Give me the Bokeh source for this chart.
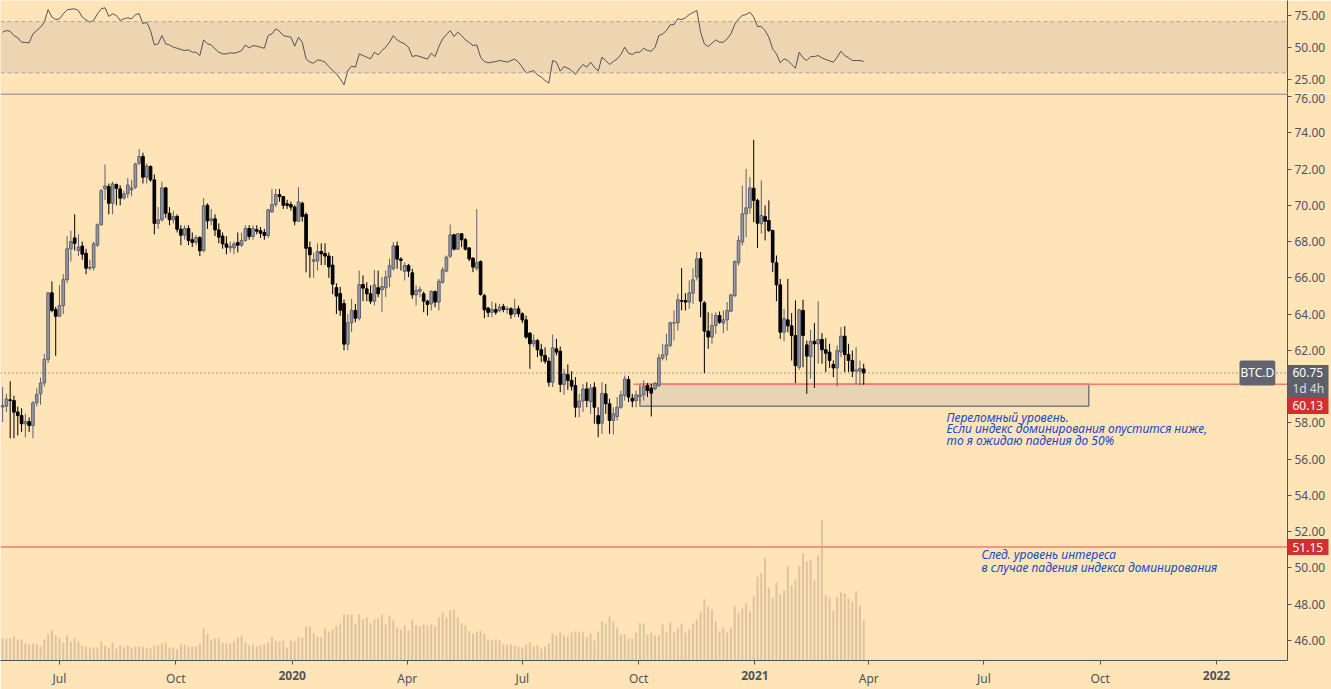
import pandas as pd
from bokeh.plotting import figure
from bokeh.layouts import column
from bokeh.models import (Range1d, FixedTicker, Span, Label, BoxAnnotation,
                          NumeralTickFormatter, GridBox)
from bokeh.embed import file_html
from bokeh.resources import INLINE

# ---------------- data (3-day candles of BTC.D) ----------------
first_bar = "2019-05-17"
axis_origin = "2019-07-01"

opens = [58.87, 58.92, 59.27, 59.23, 58.6, 58.4, 57.95, 58.07, 57.85, 59.1,
         59.6, 60.2, 61.5, 65.17, 64.25, 63.88, 64.47, 65.9, 67.6, 68.2,
         67.5, 67.75, 67.35, 66.53, 66.55, 67.8, 68.92, 70.9, 71.03, 70.11,
         71.14, 70.9, 70.4, 70.63, 70.85, 71.0, 72.32, 72.69, 71.55, 72.14,
         71.4, 69.0, 69.2, 70.96, 69.56, 69.2, 69.38, 68.68, 68.35, 68.72,
         68.1, 67.96, 68.22, 67.5, 70.0, 69.14, 69.25, 68.64, 68.3, 67.87,
         67.65, 67.65, 67.94, 67.8, 68.06, 68.72, 68.28, 68.66, 68.6, 68.5,
         68.33, 69.63, 70.04, 70.59, 70.48, 70.08, 70.04, 69.9, 69.12, 70.11,
         69.49, 67.67, 66.9, 66.92, 67.45, 67.34, 67.2, 66.7, 65.46, 65.13,
         64.58, 62.34, 63.52, 64.20, 63.77, 65.63, 65.39, 65.12, 64.71, 65.45,
         65.34, 65.45, 66.04, 66.50, 67.76, 67.03, 66.35, 66.68, 66.28, 65.06,
         65.25, 65.12, 64.71, 64.56, 65.24, 64.66, 65.76, 66.37, 67.19, 68.37,
         67.58, 68.43, 68.10, 67.65, 67.08, 66.53, 66.90, 65.02, 64.33, 64.10,
         64.25, 64.20, 64.42, 64.25, 64.29, 64.01, 64.29, 64.01, 63.68, 62.95,
         62.36, 62.54, 62.03, 61.72, 61.40, 60.24, 62.08, 61.95, 60.12, 60.66,
         60.34, 60.06, 58.86, 59.20, 59.87, 59.17, 59.96, 58.40, 57.98, 59.60,
         59.05, 58.13, 58.35, 58.86, 59.51, 60.39, 59.36, 59.23, 59.45, 59.54,
         60.06, 59.91, 59.88, 60.06, 61.57, 61.75, 62.27, 63.50, 63.52, 64.75,
         64.75, 64.66, 65.15, 66.04, 67.05, 64.62, 63.06, 62.73, 63.37, 63.92,
         63.50, 63.68, 64.16, 65.02, 66.83, 67.97, 69.53, 69.86, 70.94, 70.27,
         68.98, 69.38, 69.16, 68.61, 66.83, 65.61, 63.00, 63.68, 63.35, 62.82,
         61.07, 64.20, 62.30, 61.66, 62.50, 62.36, 62.60, 62.03, 61.90, 61.22,
         61.03, 61.90, 62.78, 61.77, 61.44, 60.85, 60.85, 60.97]
highs = [59.97, 59.6, 60.3, 59.5, 58.9, 58.8, 58.5, 58.3, 59.2, 59.9,
         60.5, 61.8, 65.2, 65.8, 64.4, 65.6, 66.2, 68.3, 68.6, 69.5,
         68.4, 68.0, 67.6, 67.0, 68.0, 69.0, 70.9, 72.25, 71.2, 71.3,
         71.2, 71.1, 70.8, 71.5, 71.4, 72.35, 73.1, 72.9, 72.3, 72.2,
         71.7, 69.9, 71.3, 71.0, 69.9, 69.7, 69.5, 68.9, 68.9, 68.9,
         68.5, 68.35, 68.3, 70.4, 70.1, 69.8, 69.5, 69.0, 68.5, 68.3,
         68.0, 68.0, 68.5, 68.5, 68.9, 68.9, 68.9, 68.9, 68.8, 68.7,
         69.8, 70.9, 70.9, 70.9, 70.5, 70.3, 70.2, 70.0, 71.0, 70.2,
         69.6, 68.0, 67.4, 67.9, 67.9, 67.9, 67.4, 67.2, 65.7, 65.5,
         64.8, 64.0, 64.84, 64.56, 66.40, 66.13, 65.76, 65.58, 66.44, 66.40,
         66.04, 66.40, 67.05, 67.97, 68.00, 67.14, 66.86, 66.77, 66.50, 65.58,
         65.52, 65.24, 64.79, 65.30, 65.30, 65.94, 66.59, 67.23, 68.94, 68.43,
         68.46, 68.46, 68.20, 67.69, 67.14, 69.80, 66.96, 65.12, 64.38, 64.69,
         64.60, 64.56, 64.56, 64.43, 64.38, 64.84, 64.47, 64.10, 63.92, 63.00,
         62.87, 62.63, 62.36, 62.17, 61.62, 62.87, 62.63, 62.21, 60.98, 61.22,
         60.85, 60.52, 59.60, 60.15, 60.24, 60.15, 60.24, 58.86, 60.24, 60.15,
         59.33, 58.86, 59.42, 59.78, 60.61, 60.57, 59.60, 59.78, 59.97, 60.34,
         60.19, 60.15, 60.24, 61.81, 62.36, 62.91, 63.59, 64.20, 65.12, 66.53,
         65.15, 65.85, 66.53, 67.42, 67.42, 64.71, 64.10, 64.05, 64.10, 64.14,
         64.20, 64.66, 65.12, 66.96, 68.33, 71.09, 72.01, 71.55, 73.61, 70.36,
         71.37, 69.99, 70.27, 68.65, 67.23, 65.94, 64.29, 65.94, 64.05, 64.75,
         64.29, 64.79, 62.54, 63.13, 63.50, 64.71, 62.95, 62.67, 62.36, 61.44,
         62.27, 63.28, 63.33, 62.36, 61.99, 62.17, 61.44, 61.26]
lows = [58.04, 58.6, 57.15, 57.15, 57.3, 57.5, 57.2, 57.5, 57.15, 58.9,
        59.0, 60.0, 61.3, 64.1, 61.7, 63.85, 64.0, 65.7, 66.9, 67.5,
        67.2, 67.0, 66.2, 66.4, 66.4, 67.7, 68.9, 70.3, 69.5, 69.5,
        70.0, 70.0, 70.3, 70.4, 70.5, 70.9, 72.2, 71.2, 71.2, 71.3,
        68.4, 68.7, 69.1, 69.3, 68.9, 69.0, 68.5, 67.8, 68.1, 67.8,
        67.7, 67.8, 67.2, 67.4, 68.7, 68.9, 68.3, 67.9, 67.6, 67.3,
        67.4, 67.3, 67.4, 67.7, 68.0, 68.1, 68.1, 68.4, 68.2, 68.1,
        68.2, 69.6, 69.9, 70.2, 69.8, 69.8, 69.7, 68.9, 69.1, 69.1,
        66.3, 66.0, 66.0, 66.4, 66.7, 66.7, 66.0, 65.1, 64.0, 63.9,
        62.0, 62.0, 63.00, 63.55, 63.65, 64.71, 64.71, 64.56, 64.47, 64.93,
        64.10, 64.93, 65.48, 66.40, 66.50, 66.40, 65.85, 66.04, 64.84, 64.47,
        64.93, 64.10, 63.92, 64.20, 64.38, 64.20, 65.67, 66.31, 67.10, 67.51,
        67.54, 67.69, 67.51, 66.92, 66.31, 66.40, 65.02, 63.77, 63.83, 63.83,
        63.96, 64.10, 64.10, 64.01, 63.74, 63.83, 63.83, 63.50, 62.63, 60.98,
        62.17, 61.62, 61.35, 61.26, 60.00, 59.97, 61.72, 59.69, 59.54, 59.82,
        59.78, 58.31, 58.31, 58.59, 58.86, 58.50, 57.95, 57.21, 57.39, 58.50,
        57.39, 57.36, 58.13, 58.77, 59.23, 59.14, 58.86, 58.86, 59.14, 59.23,
        59.42, 58.35, 59.80, 59.97, 61.44, 61.44, 62.17, 62.54, 63.09, 64.20,
        64.20, 64.29, 64.56, 65.85, 63.83, 60.74, 62.08, 62.36, 62.91, 63.46,
        62.95, 63.09, 64.10, 64.93, 66.68, 67.78, 68.24, 69.53, 69.07, 67.65,
        68.43, 68.06, 68.52, 66.31, 64.71, 62.63, 62.50, 63.00, 61.44, 60.19,
        60.92, 61.07, 59.60, 60.43, 59.93, 61.26, 61.26, 60.80, 61.03, 60.52,
        60.00, 61.62, 60.80, 60.80, 60.52, 60.12, 60.06, 60.10]
closes = [58.96, 59.32, 59.23, 58.59, 58.4, 57.95, 58.07, 57.85, 59.1, 59.56,
          60.2, 61.5, 65.17, 64.2, 63.88, 64.47, 65.9, 67.6, 68.0, 67.9,
          67.7, 67.3, 66.53, 66.58, 67.87, 68.92, 70.81, 71.07, 70.11, 71.18,
          70.94, 70.39, 70.63, 71.12, 70.96, 72.28, 72.69, 71.55, 72.17, 71.4,
          69.0, 69.2, 70.96, 69.56, 69.2, 69.38, 68.68, 68.35, 68.72, 68.06,
          67.95, 68.22, 67.49, 69.97, 69.14, 69.25, 68.64, 68.24, 67.87, 67.69,
          67.74, 67.87, 67.8, 68.06, 68.72, 68.28, 68.72, 68.57, 68.46, 68.33,
          69.75, 70.04, 70.59, 70.48, 70.0, 70.0, 69.9, 69.12, 70.19, 69.38,
          67.63, 67.27, 67.0, 67.45, 67.32, 67.2, 66.6, 65.65, 64.99, 64.21,
          62.34, 63.52, 64.20, 63.77, 65.63, 65.43, 65.12, 64.71, 65.61, 65.12,
          65.52, 66.04, 66.68, 67.76, 67.03, 66.96, 66.68, 66.37, 65.06, 65.30,
          65.36, 64.71, 64.53, 65.26, 64.66, 65.81, 66.44, 67.14, 68.37, 67.58,
          68.43, 68.10, 67.58, 67.04, 66.59, 66.84, 65.08, 64.23, 64.09, 64.25,
          64.10, 64.38, 64.25, 64.29, 63.98, 64.29, 64.01, 63.68, 62.73, 62.36,
          62.54, 62.03, 61.72, 61.40, 60.24, 62.14, 61.90, 60.12, 60.70, 60.34,
          60.02, 58.86, 59.20, 59.87, 59.23, 59.91, 58.86, 57.95, 59.63, 59.05,
          58.13, 58.50, 58.86, 59.54, 60.42, 59.42, 59.20, 59.54, 59.54, 60.02,
          59.78, 59.64, 60.19, 61.59, 61.75, 62.30, 63.52, 63.52, 64.79, 64.71,
          64.66, 65.17, 65.89, 67.05, 64.71, 63.06, 62.73, 63.37, 63.92, 63.55,
          63.68, 64.20, 65.06, 66.90, 68.06, 69.53, 69.86, 70.96, 70.27, 69.01,
          69.44, 69.12, 68.61, 66.86, 65.61, 63.00, 63.74, 63.35, 62.82, 61.16,
          64.23, 62.82, 61.68, 62.50, 62.36, 62.60, 62.03, 61.84, 61.44, 61.03,
          61.99, 62.78, 61.77, 61.44, 60.85, 60.92, 61.00, 60.75]
volume = [22.3, 21.7, 22.3, 24.0, 21.0, 21.0, 17.0, 16.0, 17.0, 17.0,
          14.0, 21.0, 26.0, 30.0, 25.0, 22.0, 18.0, 25.0, 19.0, 22.0,
          19.0, 15.0, 14.0, 13.0, 13.0, 13.0, 19.0, 15.0, 13.0, 18.0,
          12.0, 15.0, 13.0, 15.0, 13.0, 14.0, 14.0, 14.0, 13.0, 12.0,
          15.0, 15.0, 17.0, 18.0, 13.0, 13.0, 11.0, 16.0, 16.0, 14.0,
          14.0, 14.0, 17.0, 32.0, 27.0, 21.0, 22.0, 22.0, 18.0, 17.0,
          17.0, 19.0, 23.0, 25.0, 18.0, 15.0, 16.0, 14.0, 15.0, 16.0,
          18.0, 23.0, 20.0, 19.0, 20.0, 13.0, 20.0, 19.0, 24.0, 23.0,
          34.0, 34.0, 27.0, 24.0, 23.0, 32.0, 29.0, 31.0, 35.0, 37.0,
          46.0, 46.0, 46.0, 37.0, 46.0, 41.0, 43.0, 37.0, 41.0, 42.0,
          46.0, 36.0, 45.0, 40.0, 33.0, 31.0, 35.0, 30.0, 41.0, 35.0,
          34.0, 36.0, 35.0, 36.0, 34.0, 43.0, 48.0, 43.0,
          50, 51, 43, 37, 35, 29, 27, 29, 30, 27,
          21, 20, 21, 20, 16, 16, 16, 15, 14, 13,
          16, 18, 14, 15, 12, 14, 17, 27, 25, 28,
          25, 24, 28, 29, 29, 28, 24, 27, 20, 29,
          39, 37, 44, 39, 33, 26, 26, 22, 22, 28,
          37, 37, 26, 28, 25, 25, 36, 28, 38, 28,
          32, 37, 28, 31, 37, 41, 48, 61, 54, 51,
          39, 29, 33, 28, 33, 54, 47, 52, 57, 49,
          64, 84, 87, 103, 73, 63, 78, 66, 70, 94,
          75, 81, 94, 107, 99, 100, 80, 105, 140, 65,
          63, 50, 63, 68, 67, 62, 59, 69, 55, 40]
rsi = [61.7, 63.0, 62.5, 59.1, 57.3, 53.9, 53.7, 53.4, 60.4, 63.0,
       65.7, 69.6, 79.4, 73.5, 71.6, 72.2, 76.1, 79.2, 79.7, 80.0,
       78.7, 73.5, 71.4, 69.6, 70.9, 76.1, 80.0, 80.8, 74.0, 76.1,
       74.8, 70.9, 72.2, 73.0, 72.2, 75.5, 76.1, 68.3, 69.6, 63.0,
       51.8, 52.6, 59.1, 52.6, 51.8, 50.0, 49.2, 48.2, 47.4, 47.9,
       46.1, 46.1, 43.5, 55.7, 52.6, 51.8, 48.7, 46.1, 44.8, 44.8,
       45.6, 45.3, 46.1, 47.4, 51.8, 49.5, 51.3, 50.8, 50.0, 49.2,
       59.1, 60.4, 64.3, 62.5, 59.1, 58.4, 57.8, 50.8, 57.8, 53.9,
       40.9, 38.3, 37.5, 40.1, 39.6, 38.3, 34.9, 31.8, 29.2, 25.3,
       20.6, 31.8, 35.2, 34.4, 44.8, 43.5, 42.2, 40.9, 46.1, 44.0,
       47.4, 50.0, 53.9, 59.1, 55.7, 53.9, 52.6, 50.0, 42.7, 43.5,
       42.7, 41.7, 40.7, 45.3, 42.7, 50.5, 56.5, 59.9, 63.0, 58.4,
       61.7, 59.1, 55.7, 53.7, 51.3, 51.8, 42.2, 38.8, 37.8, 38.3,
       38.8, 39.6, 39.1, 38.3, 39.6, 40.7, 38.3, 34.4, 30.0, 30.7,
       31.8, 28.4, 26.6, 24.0, 21.9, 39.6, 38.3, 31.3, 34.9, 33.6,
       31.8, 28.7, 33.1, 36.5, 34.4, 38.3, 34.4, 31.3, 42.2, 39.6,
       36.5, 38.8, 40.9, 44.3, 50.0, 45.3, 44.3, 46.1, 46.1, 49.2,
       47.4, 46.9, 50.0, 59.1, 60.4, 63.0, 67.5, 67.7, 72.2, 71.6,
       73.0, 75.5, 77.1, 78.7, 61.7, 52.6, 50.5, 53.1, 55.7, 53.9,
       53.9, 56.5, 60.4, 67.7, 72.2, 74.8, 75.5, 77.4, 73.5, 66.2,
       66.2, 63.0, 57.8, 48.7, 44.8, 37.8, 40.9, 39.6, 36.5, 33.6,
       46.1, 41.7, 39.6, 42.7, 42.7, 43.5, 41.7, 40.4, 39.3, 38.3,
       42.2, 46.9, 43.5, 41.7, 39.6, 39.6, 39.6, 38.8]

last_price = 60.75
countdown = "1d 4h"
key_level = 60.13
next_level = 51.15
zone_bottom = 58.92
level_start = "2020-09-27"
zone_start = "2020-10-02"
zone_end = "2021-09-22"

tick_dates = ["2019-07-01", "2019-10-01", "2020-01-01", "2020-04-01", "2020-07-01",
              "2020-10-01", "2021-01-01", "2021-04-01", "2021-07-01", "2021-10-01",
              "2022-01-01"]
tick_labels = ["Jul", "Oct", "2020", "Apr", "Jul", "Oct", "2021", "Apr", "Jul", "Oct", "2022"]
price_ticks = list(range(46, 77, 2))
rsi_ticks = [25, 50, 75]

note1 = ["Переломный уровень.",
         "Если индекс доминирования опустится ниже,",
         "то я ожидаю падения до 50%"]
note2 = ["След. уровень интереса",
         "в случае падения индекса доминирования"]

# ---------------- styling / layout constants ----------------
BG = "#ffe4b8"
AX = "#50535e"
FONT = "Noto Sans"
UP_FILL = "#9598a6"
UP_LINE = "#5d606b"
RED = "#d32f2f"
LEVEL = "#ef7f6c"
NOTE = "#1848cc"
TAG = "#5d606b"

W, H = 1331, 689
FRAME_W = 1287
RSI_H = 93
MAIN_H = 567
Y_LO, Y_HI = 44.892, 76.165

origin = pd.Timestamp(axis_origin)
def day(d):
    return (pd.Timestamp(d) - origin).days

dates = pd.date_range(first_bar, periods=len(closes), freq="3D")
df = pd.DataFrame(dict(open=opens, high=highs, low=lows, close=closes,
                       volume=volume, rsi=rsi))
df["x"] = (dates - origin).days
df["top"] = df[["open", "close"]].max(axis=1)
df["bottom"] = df[["open", "close"]].min(axis=1)
up = df[df.close >= df.open]
dn = df[df.close < df.open]

px_per_day = 1157 / 915.0
x_start = -59 / px_per_day
x_end = x_start + FRAME_W / px_per_day
xr = Range1d(x_start, x_end)

def x_px(d):
    return (d - x_start) * px_per_day

def y_px(v):
    return RSI_H + (Y_HI - v) * MAIN_H / (Y_HI - Y_LO)

# ---------------- RSI pane ----------------
r = figure(frame_width=FRAME_W, frame_height=RSI_H, x_range=xr, y_range=Range1d(13.83, 86.5),
           x_axis_location=None, y_axis_location="right", output_backend="svg",
           toolbar_location=None, min_border_left=0, min_border_top=0,
           min_border_bottom=0, min_border_right=W - FRAME_W,
           background_fill_color=BG, border_fill_color=BG, outline_line_color=None)
r.grid.visible = False
r.add_layout(BoxAnnotation(bottom=30, top=70, fill_color="#ecd5b0", fill_alpha=1,
                           line_color=None, level="underlay"))
for lv in (30, 70):
    r.add_layout(Span(location=lv, dimension="width", line_color="#a9a7a2",
                      line_dash="4 3", line_width=1))
r.line(df.x, df.rsi, line_color=AX, line_width=1)
ra = r.yaxis[0]
ra.ticker = FixedTicker(ticks=rsi_ticks)
ra.formatter = NumeralTickFormatter(format="0.00")

# ---------------- main pane ----------------
p = figure(frame_width=FRAME_W, frame_height=MAIN_H, x_range=xr, y_range=Range1d(Y_LO, Y_HI),
           y_axis_location="right", output_backend="svg", toolbar_location=None,
           min_border_left=0, min_border_top=0, min_border_bottom=H - RSI_H - MAIN_H,
           min_border_right=W - FRAME_W,
           background_fill_color=BG, border_fill_color=BG, outline_line_color=None)
p.grid.visible = False
p.extra_y_ranges = {"vol": Range1d(0, 567)}

p.vbar(x=df.x, width=1.6, top=df.volume, bottom=0, y_range_name="vol",
       fill_color="#dcc49f", line_color=None)

p.quad(left=[day(zone_start)], right=[day(zone_end)], top=[key_level], bottom=[zone_bottom],
       fill_color="#e8d4b3", line_color="#7a7a7a", line_width=1.5)

p.add_layout(Span(location=last_price, dimension="width", line_color=AX,
                  line_dash="1 3", line_width=1))
p.add_layout(Span(location=next_level, dimension="width", line_color=LEVEL, line_width=1.5))
p.ray(x=[day(level_start)], y=[key_level], length=0, angle=0,
      line_color=LEVEL, line_width=1.5)

p.segment(x0=up.x, y0=up.high, x1=up.x, y1=up.low, line_color=UP_LINE, line_width=1)
p.segment(x0=dn.x, y0=dn.high, x1=dn.x, y1=dn.low, line_color="#000000", line_width=1)
p.vbar(x=up.x, width=2.1, top=up.top, bottom=up.bottom, fill_color=UP_FILL,
       line_color=UP_LINE, line_width=1)
p.vbar(x=dn.x, width=2.1, top=dn.top, bottom=dn.bottom, fill_color="#000000",
       line_color="#000000", line_width=1)

# separator between panes
p.add_layout(Span(location=Y_HI - 0.025, dimension="width", line_color=AX, line_width=1))

ya = p.yaxis[0]
ya.ticker = FixedTicker(ticks=price_ticks)
ya.formatter = NumeralTickFormatter(format="0.00")

xa = p.xaxis[0]
tick_x = [day(d) for d in tick_dates]
xa.ticker = FixedTicker(ticks=tick_x)
xa.major_label_overrides = {tx: ("" if lab.isdigit() else lab)
                            for tx, lab in zip(tick_x, tick_labels)}

for ax in (ya, xa, ra):
    ax.axis_line_color = AX
    ax.major_tick_line_color = AX
    ax.major_tick_out = 4
    ax.major_tick_in = 0
    ax.minor_tick_line_color = None
    ax.major_label_text_font = FONT
    ax.major_label_text_font_size = "12px"
    ax.major_label_text_color = AX
ya.major_label_standoff = 3
ra.major_label_standoff = 3
xa.major_label_standoff = 5

p.add_layout(Label(x=FRAME_W - 48, y=last_price, x_units="screen", y_units="data",
                   text="BTC.D", text_align="left", text_baseline="middle", text_font=FONT,
                   text_font_size="12px", text_color="#ffffff",
                   background_fill_color="#62656f", padding=(1, 4), border_radius=2))

# notes
for i, line in enumerate(note1):
    p.add_layout(Label(x=946, y=235 - i * 11.7, x_units="screen", y_units="screen",
                       text=line, text_font=FONT, text_font_size="12px",
                       text_font_style="italic", text_color=NOTE))
for i, line in enumerate(note2):
    p.add_layout(Label(x=981, y=97.7 - i * 12.7, x_units="screen", y_units="screen",
                       text=line, text_font=FONT, text_font_size="12px",
                       text_font_style="italic", text_color=NOTE))

# ---------------- overlay for scale tags and bold year labels ----------------
ov = figure(frame_width=W, frame_height=H, x_range=Range1d(0, W), y_range=Range1d(H, 0),
            x_axis_location=None, y_axis_location=None, output_backend="svg",
            toolbar_location=None, min_border=0, background_fill_alpha=0,
            border_fill_alpha=0, outline_line_color=None)
ov.grid.visible = False

tag_l, tag_r = FRAME_W, FRAME_W + 41
y_last = y_px(last_price)
tags = [(y_last - 8, y_last + 8, TAG, "%.2f" % last_price, "#ffffff"),
        (y_last + 8, y_last + 24, TAG, countdown, "#dcdee5"),
        (y_last + 24, y_last + 41, RED, "%.2f" % key_level, "#ffffff"),
        (y_px(next_level) - 8, y_px(next_level) + 8, RED, "%.2f" % next_level, "#ffffff")]
for top, bot, col, txt, tcol in tags:
    ov.add_layout(BoxAnnotation(left=tag_l, right=tag_r, top=top, bottom=bot,
                                fill_color=col, fill_alpha=1, line_color=None))
    ov.add_layout(Label(x=tag_l + 5, y=(top + bot) / 2, text=txt, text_align="left",
                        text_baseline="middle", text_font=FONT, text_font_size="12px",
                        text_color=tcol))
# tick marks on the scale visible through the tags' gap
for tx, lab in zip(tick_x, tick_labels):
    if lab.isdigit():
        ov.add_layout(Label(x=x_px(tx), y=H - 14, text=lab, text_align="center",
                            text_baseline="middle", text_font=FONT, text_font_size="12px",
                            text_font_style="bold", text_color=AX))

layout = GridBox(children=[(column(r, p, spacing=0), 0, 0), (ov, 0, 0)])
open("out.html", "w").write(file_html(layout, INLINE))
